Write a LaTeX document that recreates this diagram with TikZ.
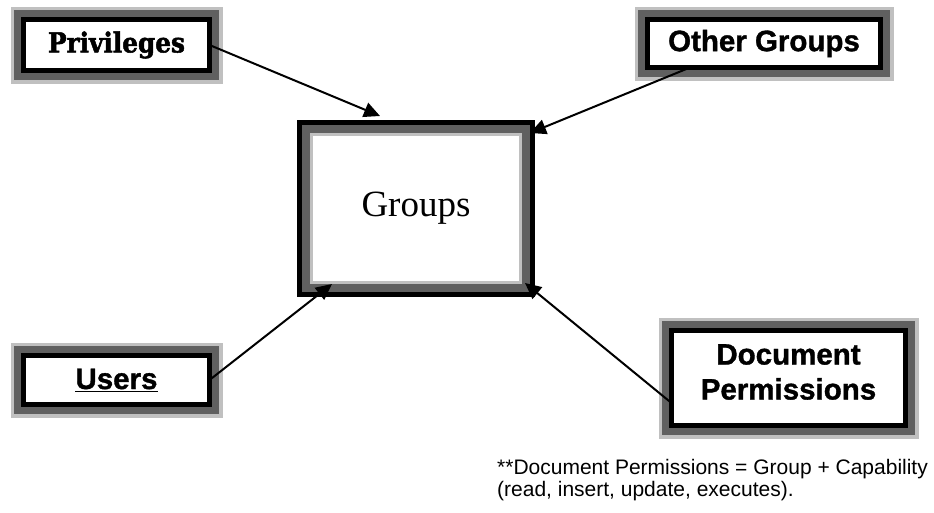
\documentclass[tikz,border=0pt]{standalone}
\usepackage{fontspec}
\setmainfont{Liberation Serif}
\newfontfamily\arialfont[BoldFeatures={FakeBold=1.2}]{Liberation Sans}
\newfontfamily\slabfont[FakeStretch=0.9, BoldFeatures={FakeBold=1.8}]{DejaVu Serif}
\usetikzlibrary{arrows.meta,calc}
\definecolor{bandgray}{HTML}{606060}
\definecolor{rimgray}{HTML}{C0C0C0}
\begin{document}
\begin{tikzpicture}[x=1pt,y=1pt,
  framebox/.style={draw=black, line width=5.5pt, fill=white, outer sep=0pt, inner sep=0pt,
    preaction={draw=rimgray, line width=26pt},
    preaction={draw=bandgray, line width=19.5pt}},
  boxtext/.style={font=\arialfont\bfseries\fontsize{29.5}{35}\selectfont, align=center},
  conn/.style={line width=2pt, -{Triangle[length=16pt,width=15pt]}}]
\useasboundingbox[fill=white] (0,0) rectangle (934,-512);

% central box
\node[fill=black, minimum width=238pt, minimum height=177pt, inner sep=0pt, outer sep=0pt,
  font=\fontsize{37}{40}\selectfont,
  path picture={
    \fill[bandgray] ([shift={(5pt,-5pt)}]path picture bounding box.north west) rectangle ([shift={(-5pt,5pt)}]path picture bounding box.south east);
    \fill[rimgray] ([shift={(13pt,-13pt)}]path picture bounding box.north west) rectangle ([shift={(-13pt,13pt)}]path picture bounding box.south east);
    \fill[white] ([shift={(16pt,-16pt)}]path picture bounding box.north west) rectangle ([shift={(-16pt,16pt)}]path picture bounding box.south east);
  }] (G) at (416,-208.5) {Groups};

% outer boxes
\node[framebox, minimum width=186pt, minimum height=51pt,
  font=\slabfont\bfseries\fontsize{27.5}{30}\selectfont] (P) at (116.5,-45) {Privileges};
\node[framebox, boxtext, minimum width=233pt, minimum height=48pt] (O) at (764,-43.5) {Other Groups};
\node[framebox, boxtext, minimum width=186pt, minimum height=49pt] (U) at (116.5,-380) {\underline{Users}};
\node[framebox, minimum width=234pt, minimum height=95pt] (D) at (788.5,-378) {};
\node[boxtext, inner sep=0pt] (Dtext) at ($(D.center)+(0,6)$) {Document\\Permissions};

% arrow ends
\coordinate (tP) at (380,-116);
\coordinate (tO) at (530,-133);
\coordinate (tU) at (332,-284);
\coordinate (tD) at (525,-283);
\coordinate (sO) at ($(O.south west)+(42.5,0)$);
\coordinate (sD) at ($(D.west)+(0,-25)$);

\draw[conn] (P.east) -- (tP);
\draw[conn] (sO) -- (tO);
\draw[conn] (U.east) -- (tU);
\draw[conn] (sD) -- (tD);

% note
\node[anchor=base west, align=left, font=\arialfont\fontsize{21}{22}\selectfont, inner sep=0pt] (N) at (497,-496)
  {**Document Permissions = Group + Capability\\(read, insert, update, executes).};
\end{tikzpicture}
\end{document}
